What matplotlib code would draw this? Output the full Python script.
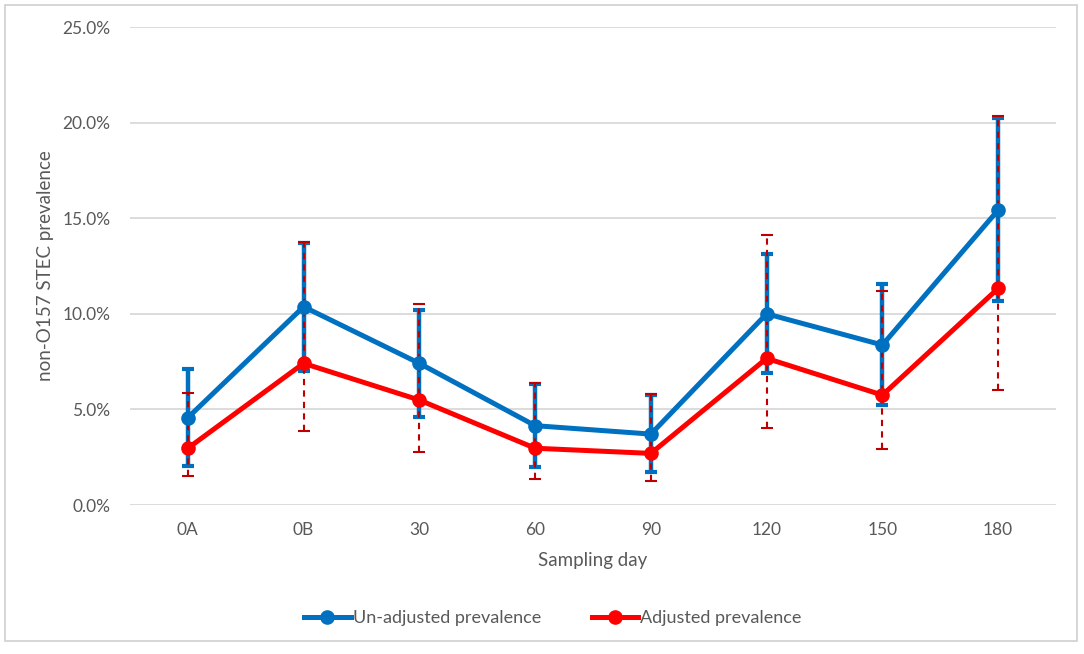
import matplotlib
matplotlib.use("Agg")
import matplotlib.pyplot as plt
from matplotlib.ticker import PercentFormatter, MultipleLocator
from matplotlib.patches import Rectangle

# data (percent)
days = ["0A", "0B", "30", "60", "90", "120", "150", "180"]
unadj = [4.57, 10.37, 7.41, 4.15, 3.71, 10.0, 8.37, 15.43]
unadj_lo = [2.06, 7.02, 4.62, 2.0, 1.71, 6.89, 5.23, 10.67]
unadj_hi = [7.10, 13.72, 10.2, 6.31, 5.75, 13.13, 11.56, 20.22]
adj = [2.97, 7.41, 5.49, 2.97, 2.70, 7.67, 5.75, 11.33]
adj_lo = [1.52, 3.87, 2.76, 1.34, 1.26, 4.01, 2.93, 6.01]
adj_hi = [5.84, 13.75, 10.5, 6.36, 5.80, 14.1, 11.18, 20.36]

BLUE = "#0070C0"
RED = "#FF0000"
DARKRED = "#C00000"
TXT = "#595959"
GRID = "#D9D9D9"

plt.rcParams['font.family'] = ['Lato', 'DejaVu Sans']

fig = plt.figure(figsize=(10.84, 6.54), dpi=100)
ax = fig.add_axes([0.1199, 0.2278, 0.8543, 0.7309])
x = list(range(len(days)))

# error bars, blue solid underneath, red dashed on top
yerr_b = [[v - l for v, l in zip(unadj, unadj_lo)], [h - v for v, h in zip(unadj, unadj_hi)]]
yerr_r = [[v - l for v, l in zip(adj, adj_lo)], [h - v for v, h in zip(adj, adj_hi)]]
ax.errorbar(x, unadj, yerr=yerr_b, fmt='none', ecolor=BLUE, elinewidth=3.2,
            capsize=4, capthick=3, zorder=2)
_, caps, bars = ax.errorbar(x, adj, yerr=yerr_r, fmt='none', ecolor=DARKRED, elinewidth=1.5,
                            capsize=4, capthick=1.5, zorder=3)
for b in bars:
    b.set_linestyle((0, (3, 2.5)))

ax.plot(x, unadj, color=BLUE, lw=3.6, marker='o', ms=9.5, label="Un-adjusted prevalence", zorder=4)
ax.plot(x, adj, color=RED, lw=3.6, marker='o', ms=9.5, label="Adjusted prevalence", zorder=4)

ax.set_xlim(-0.5, len(days) - 0.5)
ax.set_ylim(0, 25)
ax.yaxis.set_major_locator(MultipleLocator(5))
ax.yaxis.set_major_formatter(PercentFormatter(xmax=100, decimals=1))
ax.set_xticks(x)
ax.set_xticklabels(days)
ax.tick_params(length=0, labelsize=12.5, colors=TXT, pad=12)
ax.tick_params(axis='y', pad=14)
ax.grid(axis='y', color=GRID, lw=1.3)
ax.set_axisbelow(True)
for s in ax.spines.values():
    s.set_visible(False)

ax.set_xlabel("Sampling day", fontsize=13.5, color=TXT, labelpad=10)
ax.set_ylabel("non-O157 STEC prevalence", fontsize=13.5, color=TXT, labelpad=6)

leg = fig.legend(loc='center', bbox_to_anchor=(0.51, 0.055), ncol=2, frameon=False,
                 fontsize=13, handlelength=2.6, handletextpad=0.1, columnspacing=2.8)
for t in leg.get_texts():
    t.set_color(TXT)

# outer frame
fig.patches.append(Rectangle((5 / 1084, 13 / 654), 1072 / 1084, 636 / 654, transform=fig.transFigure,
                             fill=False, edgecolor="#D0D0D0", lw=1.2))

fig.savefig("out.png", dpi=100, facecolor="white")
